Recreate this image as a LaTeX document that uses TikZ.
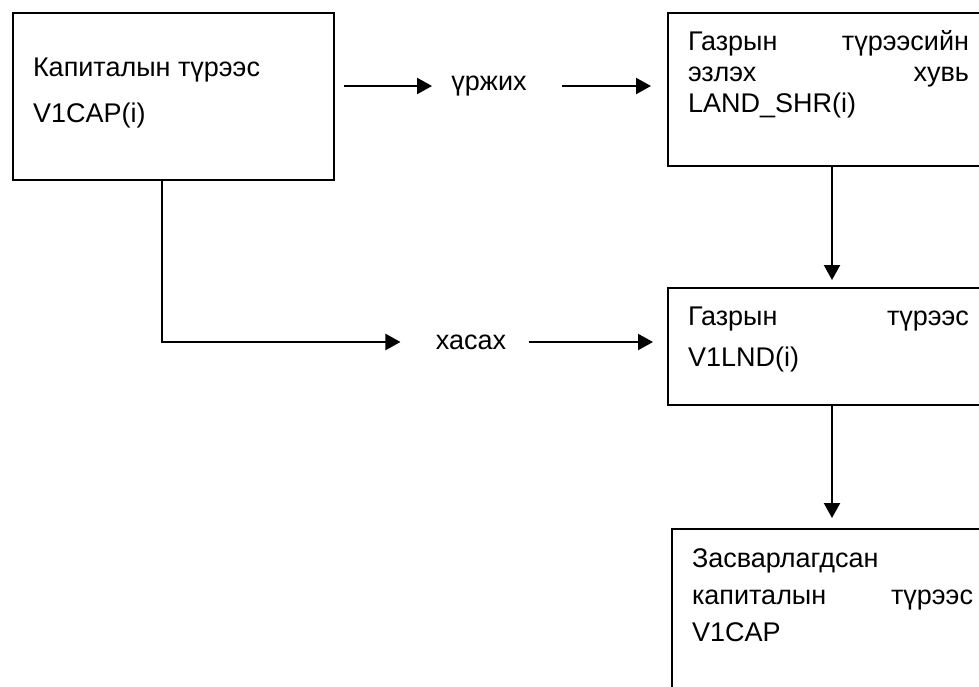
\documentclass[tikz,border=0pt]{standalone}
\usepackage{fontspec}
\setmainfont{Liberation Sans}
\usepackage{tikz}
\usetikzlibrary{positioning}
\usetikzlibrary{arrows.meta}

% text of a box: height, line skip, top space, lines
\newcommand\boxtext[4]{\parbox[t][#1][t]{140.5pt}{\fontsize{13.5}{#2}\selectfont\vspace*{#3}\rule{0pt}{10pt}#4}}

\begin{document}
\begin{tikzpicture}[x=0.5pt,y=-0.5pt]
\tikzset{box/.style={rectangle, draw, line width=1pt, anchor=north west, inner xsep=10pt, inner ysep=0pt, minimum width=160.5pt}}
\tikzset{lbl/.style={inner sep=0pt, font=\fontsize{13.5}{16}\selectfont}}
\tikzset{arr/.style={line width=1.1pt, -{Triangle[length=7.5pt,width=8pt]}}}
\useasboundingbox (0,0) rectangle (979,686);
\clip (0,0) rectangle (979,686);
\node[box] (cap) at (12,12) {\boxtext{83.5pt}{23.3pt}{21.5pt}{Капиталын түрээс\\V1CAP(i)}};
\node[box] (landshr) at (667,12) {\boxtext{76.5pt}{15.5pt}{8.5pt}{Газрын \hfill түрээсийн\\эзлэх \hfill хувь\\LAND\_SHR(i)}};
\node[box] (lnd) at (667,287) {\boxtext{58.5pt}{20.5pt}{8.5pt}{Газрын \hfill түрээс\\V1LND(i)}};
\node[box] (adjcap) at (671,528) {\boxtext{100pt}{18.5pt}{9pt}{Засварлагдсан\\капиталын \hfill түрээс\\V1CAP}};
\node[lbl] (urjih) at (489,86) {үржих};
\node[lbl] (xasax) at (471,342) {хасах};
\coordinate (hbend) at (162,0);
\coordinate (vline) at (832,0);
% arrows
\draw[arr, shorten <=4.5pt, shorten >=9.5pt] (cap.east |- urjih) -- (urjih.west);
\draw[arr, shorten <=17.5pt, shorten >=8pt] (urjih.east) -- (landshr.west |- urjih);
\draw[arr, shorten >=17.5pt] (cap.south -| hbend) |- (xasax.west);
\draw[arr, shorten <=11pt, shorten >=7pt] (xasax.east) -- (lnd.west |- xasax);
\draw[arr, shorten >=3.5pt] (landshr.south -| vline) -- (lnd.north -| vline);
\draw[arr, shorten >=5pt] (lnd.south -| vline) -- (adjcap.north -| vline);
\end{tikzpicture}
\end{document}
